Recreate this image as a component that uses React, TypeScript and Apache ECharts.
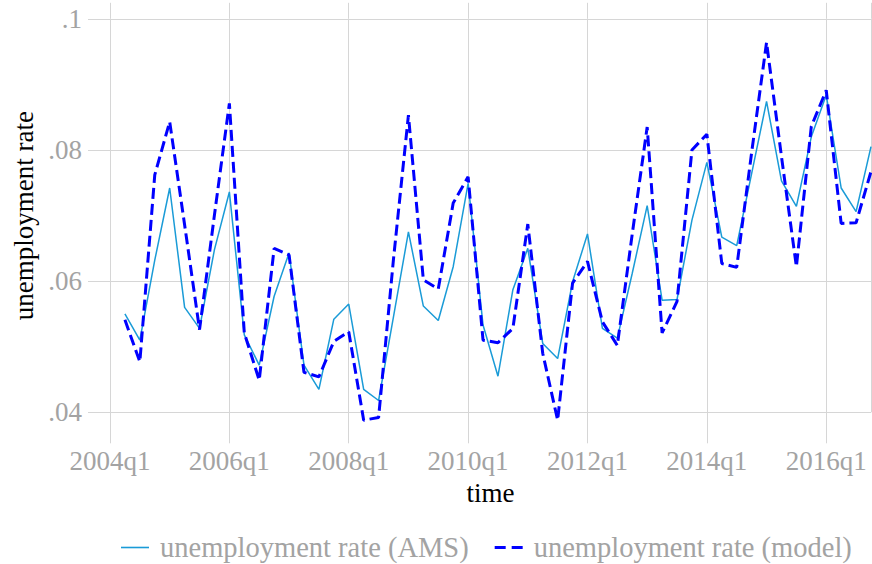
import React, { useEffect, useRef } from "react";
import * as echarts from "echarts";

const quarters = [
  "2004q2", "2004q3", "2004q4",
  "2005q1", "2005q2", "2005q3", "2005q4",
  "2006q1", "2006q2", "2006q3", "2006q4",
  "2007q1", "2007q2", "2007q3", "2007q4",
  "2008q1", "2008q2", "2008q3", "2008q4",
  "2009q1", "2009q2", "2009q3", "2009q4",
  "2010q1", "2010q2", "2010q3", "2010q4",
  "2011q1", "2011q2", "2011q3", "2011q4",
  "2012q1", "2012q2", "2012q3", "2012q4",
  "2013q1", "2013q2", "2013q3", "2013q4",
  "2014q1", "2014q2", "2014q3", "2014q4",
  "2015q1", "2015q2", "2015q3", "2015q4",
  "2016q1", "2016q2", "2016q3", "2016q4",
];

const amsRate = [
  0.055, 0.051, 0.0632,
  0.0742, 0.056, 0.0528, 0.0648,
  0.0736, 0.0518, 0.0472, 0.0577,
  0.0643, 0.0472, 0.0435, 0.0542,
  0.0565, 0.0435, 0.0418, 0.0546,
  0.0675, 0.0562, 0.054, 0.0622,
  0.0749, 0.0533, 0.0455, 0.0587,
  0.065, 0.0505, 0.0482, 0.0599,
  0.0672, 0.0528, 0.0513, 0.0612,
  0.0715, 0.0571, 0.0572, 0.0693,
  0.0781, 0.0667, 0.0654, 0.0764,
  0.0874, 0.0753, 0.0714, 0.082,
  0.0884, 0.0742, 0.0706, 0.0805,
];

const modelRate = [
  0.0541, 0.0477, 0.0762,
  0.0843, 0.0686, 0.0526, 0.0701,
  0.0871, 0.0521, 0.0449, 0.065,
  0.064, 0.0461, 0.0454, 0.0508,
  0.0523, 0.0388, 0.0392, 0.0634,
  0.0853, 0.0602, 0.0588, 0.0719,
  0.0759, 0.051, 0.0506, 0.0528,
  0.0687, 0.049, 0.0388, 0.0597,
  0.063, 0.0538, 0.0502, 0.0672,
  0.0835, 0.0521, 0.0569, 0.08,
  0.0824, 0.0627, 0.0621, 0.0796,
  0.0964, 0.079, 0.0622, 0.0836,
  0.0891, 0.0688, 0.0689, 0.0767,
];

const xTickLabels = ["2004q1", "2006q1", "2008q1", "2010q1", "2012q1", "2014q1", "2016q1"];
const seriesNames = ["unemployment rate (AMS)", "unemployment rate (model)"];

const GRID = "#d6d6d6";
const TICK_TEXT = "#a3a3a3";
const FONT = "'Liberation Serif', 'DejaVu Serif', serif";
const FS = 27;
const AMS_COLOR = "#1a9bd7";
const MODEL_COLOR = "#0000ff";

const solidIcon = "path://M0,0 H28 V1.6 H0 Z";
const dashedIcon = "path://M0,0 H11 V3 H0 Z M17,0 H28 V3 H17 Z";

function qIndex(q: string): number {
  const y = parseInt(q.slice(0, 4), 10);
  const n = parseInt(q.slice(5), 10);
  return (y - 2004) * 4 + (n - 1);
}

export default function App() {
  const ref = useRef<HTMLDivElement>(null);

  useEffect(() => {
    if (!ref.current) return;
    const chart = echarts.init(ref.current, undefined, { renderer: "svg" });
    const amsData = quarters.map((q, i) => [qIndex(q), amsRate[i]]);
    const modelData = quarters.map((q, i) => [qIndex(q), modelRate[i]]);

    chart.setOption({
      animation: false,
      backgroundColor: "#ffffff",
      textStyle: { fontFamily: FONT },
      grid: { left: 110, right: 1, top: 18.8, bottom: 151.7, containLabel: false },
      legend: {
        left: 116,
        top: 528,
        itemWidth: 28,
        itemHeight: 14,
        itemGap: 26,
        symbolKeepAspect: true,
        data: [
          { name: seriesNames[0], icon: solidIcon },
          { name: seriesNames[1], icon: dashedIcon },
        ],
        textStyle: { fontFamily: FONT, fontSize: 28.5, color: TICK_TEXT, padding: [0, 0, 0, 6] },
      },
      xAxis: [
        {
          type: "value",
          min: 0,
          max: 51,
          interval: 8,
          position: "bottom",
          axisLine: { show: false },
          axisTick: { show: true, length: 31, lineStyle: { color: GRID, width: 1 } },
          splitLine: { show: true, lineStyle: { color: GRID, width: 1 } },
          axisLabel: {
            margin: 35,
            color: TICK_TEXT,
            fontFamily: FONT,
            fontSize: FS,
            formatter: (v: number) => xTickLabels[Math.round(v / 8)] ?? "",
          },
          name: "time",
          nameLocation: "middle",
          nameGap: 60,
          nameTextStyle: { fontFamily: FONT, fontSize: FS, color: "#000" },
        },
        {
          type: "value",
          min: 0,
          max: 51,
          interval: 8,
          position: "top",
          axisLine: { show: false },
          axisTick: { show: true, length: 16, lineStyle: { color: GRID, width: 1 } },
          splitLine: { show: false },
          axisLabel: { show: false },
        },
      ],
      yAxis: {
        type: "value",
        min: 0.04,
        max: 0.1,
        interval: 0.02,
        axisLine: { show: false },
        axisTick: { show: true, length: 22, lineStyle: { color: GRID, width: 1 } },
        splitLine: { show: true, lineStyle: { color: GRID, width: 1 } },
        axisLabel: {
          margin: 28,
          color: TICK_TEXT,
          fontFamily: FONT,
          fontSize: FS,
          formatter: (v: number) => String(+v.toFixed(2)).replace(/^0/, ""),
        },
        name: "unemployment rate",
        nameLocation: "middle",
        nameGap: 60,
        nameTextStyle: { fontFamily: FONT, fontSize: FS, color: "#000" },
      },
      series: [
        {
          name: seriesNames[0],
          type: "line",
          xAxisIndex: 0,
          data: amsData,
          symbol: "none",
          showSymbol: false,
          clip: false,
          lineStyle: { color: AMS_COLOR, width: 1.5 },
          itemStyle: { color: AMS_COLOR },
          z: 3,
        },
        {
          name: seriesNames[1],
          type: "line",
          xAxisIndex: 0,
          data: modelData,
          symbol: "none",
          showSymbol: false,
          clip: false,
          lineStyle: { color: MODEL_COLOR, width: 3, type: [11, 5] },
          itemStyle: { color: MODEL_COLOR },
          z: 4,
        },
      ],
    });

    return () => chart.dispose();
  }, []);

  return (
    <div
      ref={ref}
      style={{ position: "fixed", left: 0, top: 0, width: 872, height: 564, background: "#fff" }}
    />
  );
}
